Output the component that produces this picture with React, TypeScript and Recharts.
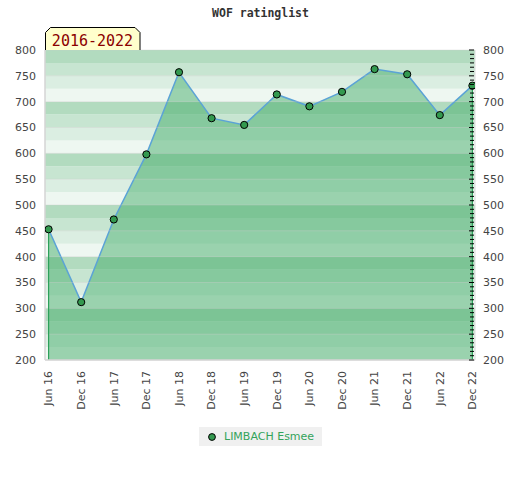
import React from 'react';
import { ComposedChart, Area, XAxis, YAxis, ReferenceArea, ReferenceLine, Legend } from 'recharts';

const periods = ['Jun 16', 'Dec 16', 'Jun 17', 'Dec 17', 'Jun 18', 'Dec 18', 'Jun 19', 'Dec 19', 'Jun 20', 'Dec 20', 'Jun 21', 'Dec 21', 'Jun 22', 'Dec 22'];
const ratings = [453, 312, 472, 598, 757, 668, 655, 714, 691, 719, 763, 753, 674, 731];
const yTicks = [200, 250, 300, 350, 400, 450, 500, 550, 600, 650, 700, 750, 800];
const bandStarts = [200, 300, 400, 500, 600, 700];
const stripeColors = ['#eef7f1', '#dbeee2', '#c7e5d1', '#b2dbbf'];
const playerName = 'LIMBACH Esmee';
const periodLabel = '2016-2022';
const chartTitle = 'WOF ratinglist';

const data = ratings.map((v, i) => ({ i, v }));
const xTickValues = periods.map((_, i) => i);
const stripes = bandStarts.flatMap((b) =>
  stripeColors.map((fill, j) => ({ y1: b + 25 * j, y2: b + 25 * (j + 1), fill }))
);
const minorTicks = Array.from({ length: 73 }, (_, k) => 200 + (k * 50) / 6);

const FONT = '"DejaVu Sans", Verdana, sans-serif';

const XTick = (props: any) => {
  const { x, y, payload } = props;
  return (
    <text
      x={x - 11}
      y={y}
      transform={`rotate(-90, ${x}, ${y})`}
      textAnchor="end"
      dy="0.35em"
      fill="#444"
      fontSize={11}
      fontFamily={FONT}
    >
      {periods[payload.value]}
    </text>
  );
};

const RightTick = (props: any) => {
  const { x, y, payload } = props;
  const v = payload.value;
  const major = Math.abs(v / 50 - Math.round(v / 50)) < 1e-6;
  return (
    <g>
      <line x1={major ? x - 6 : x - 5} x2={x - 1} y1={y} y2={y} stroke="#000" strokeWidth={1} />
      {major && (
        <text x={x + 8} y={y} dy="0.35em" textAnchor="start" fill="#444" fontSize={11} fontFamily={FONT}>
          {Math.round(v)}
        </text>
      )}
    </g>
  );
};

const Dot = (props: any) => {
  const { cx, cy, index } = props;
  return <circle key={`d${index}`} cx={cx} cy={cy} r={3.6} fill="#33994f" stroke="#000" strokeWidth={1} />;
};

const LegendContent = (props: any) => {
  const item = props.payload && props.payload[0];
  return (
    <div
      style={{
        background: '#f0f0f0',
        width: 123,
        height: 19,
        display: 'flex',
        alignItems: 'center',
        boxSizing: 'border-box',
        paddingLeft: 8,
        fontFamily: FONT,
        fontSize: 11,
        color: '#33a35a',
      }}
    >
      <svg width={10} height={10} style={{ marginRight: 7 }}>
        <circle cx={5} cy={5} r={3.4} fill="#33994f" stroke="#000" strokeWidth={1} />
      </svg>
      <span>{item ? item.value : playerName}</span>
    </div>
  );
};

export default function App() {
  return (
    <div style={{ position: 'absolute', left: 0, top: 0, width: 520, height: 480, fontFamily: FONT, background: '#fff' }}>
      <ComposedChart width={520} height={480} data={data} margin={{ top: 50, right: 0, bottom: 60, left: 0 }}>
        <XAxis
          dataKey="i"
          type="number"
          domain={[-0.11, 13.08]}
          allowDataOverflow
          ticks={xTickValues}
          interval={0}
          height={60}
          tickSize={0}
          tickMargin={0}
          tickLine={false}
          axisLine={{ stroke: '#d4d4d4', strokeWidth: 1.5 }}
          tick={<XTick />}
        />
        <YAxis
          yAxisId="left"
          orientation="left"
          domain={[200, 800]}
          allowDataOverflow
          ticks={yTicks}
          interval={0}
          width={45}
          tickSize={0}
          tickMargin={9}
          tickLine={false}
          axisLine={{ stroke: '#d4d4d4', strokeWidth: 1.5 }}
          tick={{ fill: '#444', fontSize: 11, fontFamily: FONT }}
        />
        <YAxis
          yAxisId="right"
          orientation="right"
          domain={[200, 800]}
          allowDataOverflow
          ticks={minorTicks}
          interval={0}
          width={45}
          tickSize={0}
          tickMargin={0}
          tickLine={false}
          axisLine={{ stroke: '#dcdcdc' }}
          tick={<RightTick />}
        />
        {stripes.map((s, k) => (
          <ReferenceArea
            key={`s${k}`}
            yAxisId="left"
            y1={s.y1}
            y2={s.y2}
            fill={s.fill}
            fillOpacity={1}
            stroke="none"
            ifOverflow="hidden"
          />
        ))}
        {yTicks.map((t) => (
          <ReferenceLine key={`g${t}`} yAxisId="left" y={t} stroke="#c8c8c8" strokeOpacity={0.35} strokeWidth={1} />
        ))}
        <Area
          yAxisId="left"
          type="linear"
          dataKey="v"
          name={playerName}
          baseValue={200}
          stroke="#5ba3d6"
          strokeWidth={1.5}
          fill="#45ad6c"
          fillOpacity={0.5}
          dot={<Dot />}
          activeDot={false}
          isAnimationActive={false}
        />
        <ReferenceLine
          yAxisId="left"
          segment={[{ x: 0, y: 200 }, { x: 0, y: ratings[0] }]}
          stroke="#2ca05a"
          strokeWidth={1.2}
        />
        <ReferenceLine
          yAxisId="left"
          segment={[{ x: periods.length - 1, y: 200 }, { x: periods.length - 1, y: ratings[ratings.length - 1] }]}
          stroke="#2ca05a"
          strokeWidth={1.2}
        />
        <Legend
          verticalAlign="middle"
          layout="horizontal"
          wrapperStyle={{ left: 199, top: 427, width: 123, height: 19 }}
          content={<LegendContent />}
        />
      </ComposedChart>
      <svg width={520} height={60} style={{ position: 'absolute', left: 0, top: 0, pointerEvents: 'none' }}>
        <text
          x={260.5}
          y={16.5}
          textAnchor="middle"
          fontFamily='"DejaVu Sans Mono", monospace'
          fontWeight="bold"
          fontSize={11.5}
          fill="#333"
        >
          {chartTitle}
        </text>
        <path
          d="M45.5,50 L45.5,32.5 L50.5,27.5 L135,27.5 L140,32.5 L140,50"
          fill="#ffffcc"
          stroke="#000"
          strokeWidth={1}
        />
        <text
          x={92.5}
          y={45.5}
          textAnchor="middle"
          fontFamily='"DejaVu Sans Mono", monospace'
          fontSize={15}
          fill="#8b0000"
        >
          {periodLabel}
        </text>
      </svg>
    </div>
  );
}
